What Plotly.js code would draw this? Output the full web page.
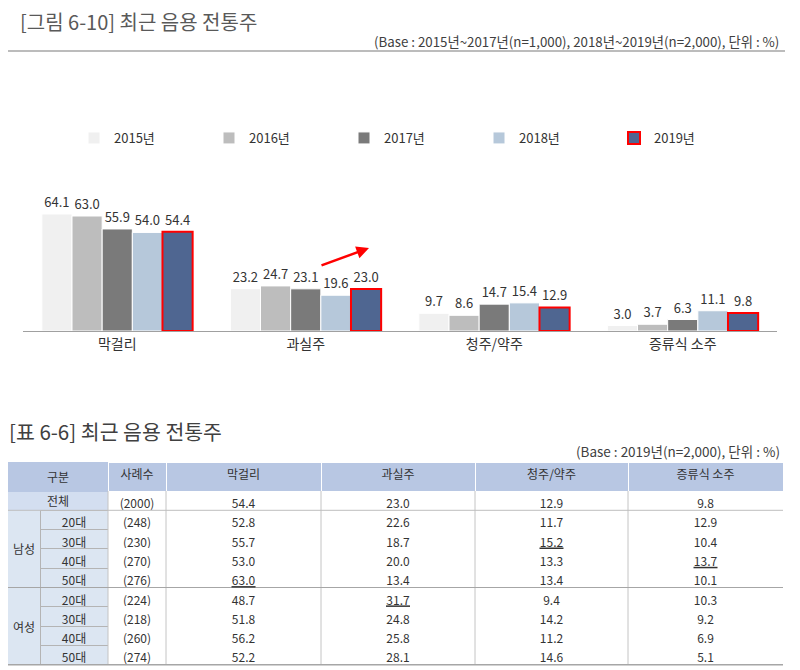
<!DOCTYPE html>
<html><head><meta charset="utf-8">
<script src="https://cdn.plot.ly/plotly-3.0.1.min.js"></script>
<style>html,body{margin:0;padding:0;background:#fff}</style>
</head><body><div id="chart" style="width:800px;height:670px"></div>
<script>
// ---------- chart data ----------
const categories = ['막걸리', '과실주', '청주/약주', '증류식 소주'];
const years = ['2015년', '2016년', '2017년', '2018년', '2019년'];
const v2015 = [64.1, 23.2, 9.7, 3.0];
const v2016 = [63.0, 24.7, 8.6, 3.7];
const v2017 = [55.9, 23.1, 14.7, 6.3];
const v2018 = [54.0, 19.6, 15.4, 11.1];
const v2019 = [54.4, 23.0, 12.9, 9.8];

// ---------- table data ----------
const headerLabels = ['구분', '사례수', '막걸리', '과실주', '청주/약주', '증류식 소주'];
const groupLabels = ['전체', '남성', '여성'];
const ageLabels = ['', '20대', '30대', '40대', '50대', '20대', '30대', '40대', '50대'];
const sampleSizes = ['(2000)', '(248)', '(230)', '(270)', '(276)', '(224)', '(218)', '(260)', '(274)'];
const tMakgeolli = [54.4, 52.8, 55.7, 53.0, 63.0, 48.7, 51.8, 56.2, 52.2];
const tFruit = [23.0, 22.6, 18.7, 20.0, 13.4, 31.7, 24.8, 25.8, 28.1];
const tCheongju = [12.9, 11.7, 15.2, 13.3, 13.4, 9.4, 14.2, 11.2, 14.6];
const tSoju = [9.8, 12.9, 10.4, 13.7, 10.1, 10.3, 9.2, 6.9, 5.1];

// ---------- geometry helpers ----------
const W = 800, H = 670;
const px = x => x / W;
const py = y => 1 - y / H;
const FONT = 'Noto Sans CJK KR, Noto Sans, sans-serif';

const colors = ['#f0f0f0', '#bdbdbd', '#7a7a7a', '#b6c8da', '#4f6691'];
const series = [v2015, v2016, v2017, v2018, v2019];

const traces = series.map((vals, i) => ({
  type: 'bar',
  name: years[i],
  x: categories,
  y: vals,
  text: vals.map(v => v.toFixed(1)),
  textposition: 'outside',
  constraintext: 'none',
  cliponaxis: false,
  textfont: {family: FONT, size: 13, color: '#333'},
  marker: {
    color: colors[i],
    line: i === 4 ? {color: '#ff0000', width: 2} : {color: '#ffffff', width: 1}
  },
  hoverinfo: 'none'
}));

// ---------- table ----------
const colWidths = [32, 68, 58, 155, 154, 153, 155];
const TABLE_LEFT = 8, TABLE_TOP = 462, HEADER_H = 29, ROW_H = 19.3;
const tableRight = TABLE_LEFT + colWidths.reduce((a, b) => a + b, 0);
const colEdges = [TABLE_LEFT];
colWidths.forEach(w => colEdges.push(colEdges[colEdges.length - 1] + w));
const nRows = ageLabels.length;
const bodyTop = TABLE_TOP + HEADER_H;
const rowTop = r => bodyTop + r * ROW_H;

const valueCols = [tMakgeolli, tFruit, tCheongju, tSoju];
// highest value among the demographic rows (rows 1..) is underlined
const maxRow = arr => {
  let m = 1;
  for (let i = 1; i < arr.length; i++) if (arr[i] > arr[m]) m = i;
  return m;
};
const fmtCol = arr => arr.map(v => v.toFixed(1));

const HDR_FILL = '#b8c7e3';
const SIDE_FILL = '#dce6f2';
const TOTAL_FILL = '#d3def0';
const emptyCol = ageLabels.map(() => '');

const col0Fill = ageLabels.map((_, r) => r === 0 ? TOTAL_FILL : SIDE_FILL);
const col1Fill = ageLabels.map((_, r) => r === 0 ? TOTAL_FILL : SIDE_FILL);
const col1Line = ageLabels.map((_, r) => r === 0 ? TOTAL_FILL : '#b4b4b4');
const whiteCol = ageLabels.map(() => '#ffffff');

traces.push({
  type: 'table',
  domain: {x: [px(TABLE_LEFT), px(tableRight)], y: [0, py(TABLE_TOP)]},
  columnwidth: colWidths,
  header: {
    values: ['', '', headerLabels[1], headerLabels[2], headerLabels[3], headerLabels[4], headerLabels[5]],
    align: 'center',
    height: HEADER_H,
    fill: {color: HDR_FILL},
    line: {color: [HDR_FILL, HDR_FILL, '#ffffff', '#ffffff', '#ffffff', '#ffffff', '#ffffff'], width: 1},
    font: {family: FONT, size: 12, color: '#333'}
  },
  cells: {
    values: [emptyCol, ageLabels, sampleSizes].concat(valueCols.map(fmtCol)),
    align: 'center',
    height: ROW_H,
    fill: {color: [col0Fill, col1Fill, whiteCol, whiteCol, whiteCol, whiteCol, whiteCol]},
    line: {color: [col0Fill, col1Line, whiteCol, whiteCol, whiteCol, whiteCol, whiteCol], width: 1},
    font: {family: FONT, size: 12, color: '#333'}
  }
});

// ---------- shapes (rules / grid lines / underlines) ----------
const bottomY = rowTop(nRows);
const shapes = [
  {type: 'line', xref: 'paper', yref: 'paper', x0: px(8), x1: px(785), y0: py(51), y1: py(51),
   line: {color: '#a6a6a6', width: 1.5}}
];
[2, 3, 4, 5, 6].forEach(k => shapes.push({
  type: 'line', xref: 'paper', yref: 'paper', x0: px(colEdges[k]), x1: px(colEdges[k]),
  y0: py(bodyTop), y1: py(bottomY), line: {color: '#c4c4c4', width: 1}
}));
shapes.push({type: 'line', xref: 'paper', yref: 'paper', x0: px(TABLE_LEFT), x1: px(tableRight),
  y0: py(rowTop(1)), y1: py(rowTop(1)), line: {color: '#bfbfbf', width: 1}});
shapes.push({type: 'line', xref: 'paper', yref: 'paper', x0: px(TABLE_LEFT), x1: px(tableRight),
  y0: py(rowTop(5)), y1: py(rowTop(5)), line: {color: '#a6a6a6', width: 1}});
shapes.push({type: 'line', xref: 'paper', yref: 'paper', x0: px(TABLE_LEFT), x1: px(tableRight),
  y0: py(bottomY), y1: py(bottomY), line: {color: '#a6a6a6', width: 1.5}});
valueCols.forEach((arr, j) => {
  const k = j + 3;
  const cx = (colEdges[k] + colEdges[k + 1]) / 2;
  const uy = rowTop(maxRow(arr)) + ROW_H / 2 + 9;
  shapes.push({type: 'line', xref: 'paper', yref: 'paper', x0: px(cx - 12), x1: px(cx + 12),
    y0: py(uy), y1: py(uy), line: {color: '#333', width: 1.5}});
});

// ---------- annotations ----------
const tableLabelFont = {family: FONT, size: 12, color: '#333'};
const sideCenter = (colEdges[0] + colEdges[2]) / 2;
const genderCenter = (colEdges[0] + colEdges[1]) / 2;
const ann = (x, y, text, font, xanchor) => ({xref: 'paper', yref: 'paper', x: px(x), y: py(y),
  xanchor: xanchor || 'center', yanchor: 'middle', showarrow: false, text: text, font: font});
const annotations = [
  ann(18, 21, '[그림 6-10] 최근 음용 전통주', {family: FONT, size: 20, color: '#595959'}, 'left'),
  ann(781, 42, '(Base : 2015년~2017년(n=1,000), 2018년~2019년(n=2,000), 단위 : %)', {family: FONT, size: 13.3, color: '#404040'}, 'right'),
  {xref: 'paper', yref: 'paper', x: px(369), y: py(248), ax: -49, ay: 18, showarrow: true, text: '',
   arrowcolor: '#ff0000', arrowwidth: 2.5, arrowhead: 2, arrowsize: 1},
  ann(7, 431, '[표 6-6] 최근 음용 전통주', {family: FONT, size: 20.5, color: '#404040'}, 'left'),
  ann(782, 451, '(Base : 2019년(n=2,000), 단위 : %)', {family: FONT, size: 13.5, color: '#404040'}, 'right'),
  ann(sideCenter, TABLE_TOP + HEADER_H / 2, headerLabels[0], tableLabelFont),
  ann(sideCenter, rowTop(0) + ROW_H / 2, groupLabels[0], tableLabelFont),
  ann(genderCenter, rowTop(3), groupLabels[1], tableLabelFont),
  ann(genderCenter, rowTop(7), groupLabels[2], tableLabelFont)
];

const layout = {
  width: W, height: H,
  margin: {l: 0, r: 0, t: 0, b: 0},
  paper_bgcolor: '#ffffff', plot_bgcolor: '#ffffff',
  font: {family: FONT, color: '#333'},
  barmode: 'group', bargap: 0.2, bargroupgap: 0,
  showlegend: true,
  legend: {orientation: 'h', x: px(74), y: py(138), xanchor: 'left', yanchor: 'middle',
           entrywidth: 90, entrywidthmode: 'pixels', font: {family: FONT, size: 13, color: '#333'},
           bgcolor: 'rgba(0,0,0,0)'},
  xaxis: {domain: [px(23), px(777)], type: 'category', showline: true, linecolor: '#a0a0a0', linewidth: 1,
          ticks: '', showgrid: false, zeroline: false, tickfont: {family: FONT, size: 14, color: '#333'},
          fixedrange: true},
  yaxis: {domain: [py(331), py(170)], range: [0, 88.2], visible: false, fixedrange: true},
  shapes: shapes,
  annotations: annotations
};

Plotly.newPlot('chart', traces, layout, {displayModeBar: false, staticPlot: true});
</script>
</body></html>
